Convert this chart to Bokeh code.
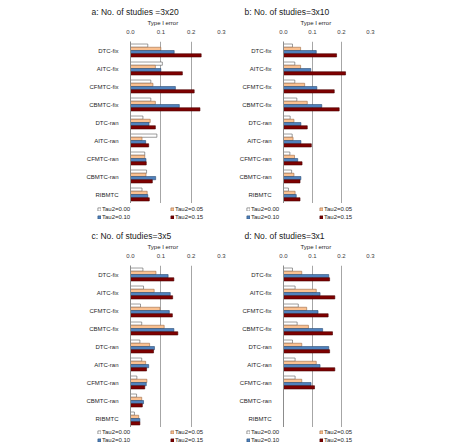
from bokeh.plotting import figure
from bokeh.layouts import column, row
from bokeh.models import (ColumnDataSource, FactorRange, Range1d, FixedTicker,
                          NumeralTickFormatter, Title, Legend, LegendItem)
from bokeh.transform import dodge
from bokeh.embed import file_html
from bokeh.resources import INLINE

NAN = float("nan")

methods = ["DTC-fix", "AITC-fix", "CFMTC-fix", "CBMTC-fix",
           "DTC-ran", "AITC-ran", "CFMTC-ran", "CBMTC-ran", "RIBMTC"]
tau_labels = ["Tau2=0.00", "Tau2=0.05", "Tau2=0.10", "Tau2=0.15"]
x_ticks = [0.0, 0.1, 0.2, 0.3]

# a: 3x20 studies
a_tau000 = [0.057, 0.105, 0.067, 0.067, 0.041, 0.087, 0.047, 0.053, 0.038]
a_tau005 = [0.100, 0.082, 0.074, 0.082, 0.065, 0.038, 0.047, 0.051, 0.055]
a_tau010 = [0.144, 0.100, 0.148, 0.161, 0.061, 0.050, 0.051, 0.083, 0.057]
a_tau015 = [0.233, 0.171, 0.210, 0.229, 0.082, 0.060, 0.052, 0.072, 0.062]

# b: 3x10 studies
b_tau000 = [0.031, 0.039, 0.039, 0.046, 0.023, 0.030, 0.022, 0.028, 0.017]
b_tau005 = [0.059, 0.059, 0.073, 0.082, 0.036, 0.033, 0.038, 0.036, 0.040]
b_tau010 = [0.113, 0.094, 0.115, 0.132, 0.060, 0.060, 0.049, 0.060, 0.044]
b_tau015 = [0.183, 0.214, 0.175, 0.192, 0.082, 0.096, 0.064, 0.057, 0.057]

# c: 3x5 studies
c_tau000 = [0.041, 0.043, 0.033, 0.037, 0.031, 0.037, 0.021, 0.020, 0.013]
c_tau005 = [0.084, 0.078, 0.097, 0.111, 0.063, 0.050, 0.054, 0.037, 0.027]
c_tau010 = [0.124, 0.131, 0.128, 0.143, 0.079, 0.060, 0.052, 0.043, 0.031]
c_tau015 = [0.143, 0.139, 0.138, 0.156, 0.076, 0.053, 0.047, 0.039, 0.031]

# d: 3x1 studies (no results for CBMTC-ran and RIBMTC)
d_tau000 = [0.031, 0.040, 0.051, 0.047, 0.031, 0.040, 0.040, NAN, NAN]
d_tau005 = [0.063, 0.113, 0.080, 0.086, 0.063, 0.113, 0.063, NAN, NAN]
d_tau010 = [0.156, 0.126, 0.119, 0.135, 0.156, 0.126, 0.095, NAN, NAN]
d_tau015 = [0.159, 0.177, 0.154, 0.169, 0.159, 0.177, 0.107, NAN, NAN]

FONT = "Liberation Sans"
FILLS = ["#ffffff", "#fac090", "#4f81bd", "#7f0000"]
LINES = ["#5a5a5a", "#9c6a45", "#2c4d75", "#4a0000"]
OFFSETS = [0.27, 0.09, -0.09, -0.27]
BAR_H = 0.18
W = 236


def make_panel(title, series, left, height=203):
    src = ColumnDataSource(dict(method=methods, t0=series[0], t1=series[1],
                                t2=series[2], t3=series[3]))
    p = figure(width=W, height=height, title=None,
               y_range=FactorRange(factors=list(reversed(methods))),
               x_range=Range1d(0, 0.3), x_axis_location="above",
               output_backend="svg", toolbar_location=None,
               min_border_left=left, min_border_right=W - left - 91,
               min_border_top=41, min_border_bottom=0)
    p.outline_line_color = None
    p.border_fill_color = "white"

    for i, key in enumerate(["t0", "t1", "t2", "t3"]):
        p.hbar(y=dodge("method", OFFSETS[i], range=p.y_range), left=0, right=key,
               height=BAR_H, source=src, fill_color=FILLS[i], line_color=LINES[i],
               line_width=0.6)

    xa = p.xaxis[0]
    xa.ticker = FixedTicker(ticks=x_ticks)
    xa.formatter = NumeralTickFormatter(format="0.0")
    xa.axis_line_color = None
    xa.major_tick_line_color = None
    xa.minor_tick_line_color = None
    xa.major_label_standoff = 2
    xa.major_label_text_font = FONT
    xa.major_label_text_font_size = "6px"
    xa.major_label_text_color = "#404040"

    ya = p.yaxis[0]
    ya.axis_line_color = "#8c8c8c"
    ya.major_tick_line_color = None
    ya.minor_tick_line_color = None
    ya.major_label_standoff = 6
    ya.major_label_text_font = FONT
    ya.major_label_text_font_size = "6px"
    ya.major_label_text_color = "#262626"

    p.ygrid.grid_line_color = None
    p.xgrid.ticker = FixedTicker(ticks=x_ticks[1:])
    p.xgrid.grid_line_color = "#a6a6a6"
    p.xgrid.grid_line_width = 1

    p.add_layout(Title(text="Type I error", text_font=FONT, text_font_size="6px",
                       text_font_style="normal", text_color="#262626",
                       align="left", offset=17, standoff=1), "above")
    p.add_layout(Title(text=title, text_font=FONT, text_font_size="8.5px",
                       text_font_style="normal", text_color="#1a1a1a",
                       align="left", offset=-39, standoff=2), "above")
    return p


def make_legend(left, height=21):
    # a strip holding the Tau2 key beneath a panel
    p = figure(width=W, height=height, x_axis_location=None, y_axis_location=None,
               x_range=Range1d(0, 1), y_range=Range1d(0, 1),
               output_backend="svg", toolbar_location=None, min_border=0)
    p.outline_line_color = None
    p.grid.grid_line_color = None
    # placeholder row (not drawn) so each key swatch has a style to copy
    key_src = ColumnDataSource(dict(y=[NAN], right=[NAN]))
    items = []
    for i in range(4):
        r = p.hbar(y="y", right="right", left=0, height=1, source=key_src,
                   fill_color=FILLS[i], line_color=LINES[i], line_width=0.6)
        items.append(LegendItem(label=tau_labels[i], renderers=[r]))
    leg = Legend(items=items, location=(left - 33, 3), orientation="horizontal", ncols=2,
                 label_text_font=FONT, label_text_font_size="6px",
                 label_text_color="#262626", label_height=8, label_width=68,
                 glyph_height=4, glyph_width=4, label_standoff=1, spacing=0,
                 padding=0, margin=0, border_line_color=None,
                 background_fill_alpha=0)
    p.add_layout(leg, "center")
    return p


pa = make_panel("a: No. of studies =3x20", [a_tau000, a_tau005, a_tau010, a_tau015], 130)
pb = make_panel("b: No. of studies=3x10", [b_tau000, b_tau005, b_tau010, b_tau015], 43)
pc = make_panel("c: No. of studies=3x5", [c_tau000, c_tau005, c_tau010, c_tau015], 130, height=203)
pd = make_panel("d: No. of studies=3x1", [d_tau000, d_tau005, d_tau010, d_tau015], 43, height=203)

layout = column(row(pa, pb), row(make_legend(130), make_legend(43)),
                row(pc, pd), row(make_legend(130, 20), make_legend(43, 20)))
open("out.html", "w").write(file_html(layout, INLINE))
